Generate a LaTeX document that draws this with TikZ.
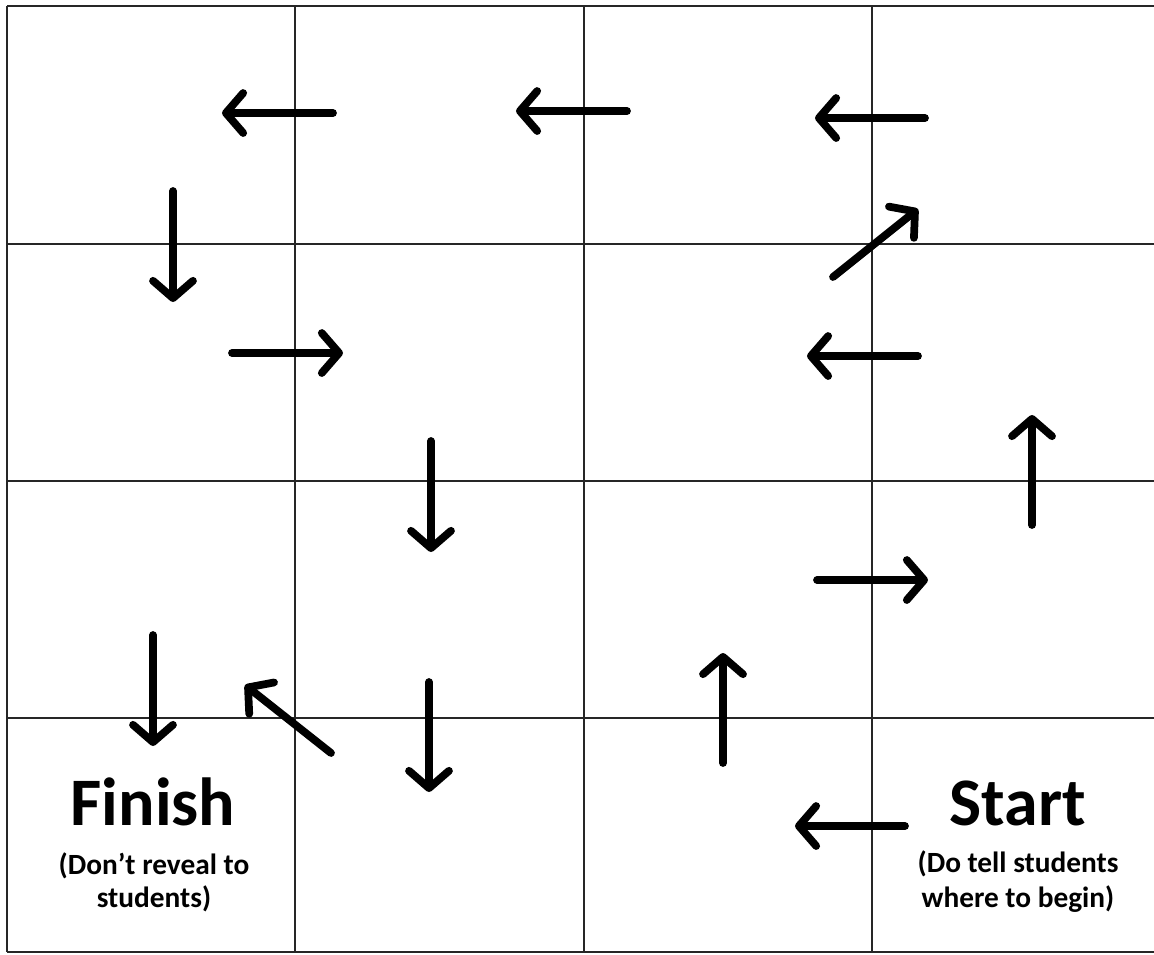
\documentclass[tikz,border=0pt]{standalone}
\usepackage{fontspec}
\setmainfont{Carlito}
\usetikzlibrary{arrows.meta}
\tikzset{
  gridline/.style={line width=1.6pt, draw=black!85},
  arr/.style={line width=5.8pt, line cap=round, line join=round,
    -{Straight Barb[length=13pt, width=30pt, round]}},
  bigtxt/.style={font=\fontsize{51pt}{60pt}\selectfont\bfseries, anchor=base, inner sep=0pt},
  smalltxt/.style={font=\fontsize{22pt}{26pt}\selectfont\bfseries, anchor=base, inner sep=0pt},
}
\begin{document}
\begin{tikzpicture}[x=0.75pt, y=-0.75pt]
\useasboundingbox (0,0) rectangle (1154,954);
% grid
\draw[gridline] (7,6) -- (1160,6);
\draw[gridline] (7,244) -- (1160,244);
\draw[gridline] (7,481) -- (1160,481);
\draw[gridline] (7,718) -- (1160,718);
\draw[gridline] (7,952) -- (1160,952);
\draw[gridline] (7,6) -- (7,952);
\draw[gridline] (295,6) -- (295,952);
\draw[gridline] (584,6) -- (584,952);
\draw[gridline] (872,6) -- (872,952);
% arrow end points
\coordinate (t1) at (333,113);  \coordinate (h1) at (222,113);
\coordinate (t2) at (627,111);  \coordinate (h2) at (516,111);
\coordinate (t3) at (925,118);  \coordinate (h3) at (815,118);
\coordinate (t4) at (173,191);  \coordinate (h4) at (173,302);
\coordinate (t5) at (833,277);  \coordinate (h5) at (918,209);
\coordinate (t6) at (232,353);  \coordinate (h6) at (343,353);
\coordinate (t7) at (918,356);  \coordinate (h7) at (807,356);
\coordinate (t8) at (1032,525); \coordinate (h8) at (1032,415);
\coordinate (t9) at (431,441);  \coordinate (h9) at (431,552);
\coordinate (t10) at (817,580); \coordinate (h10) at (928,580);
\coordinate (t11) at (153,635); \coordinate (h11) at (153,746);
\coordinate (t12) at (331,753); \coordinate (h12) at (245,685);
\coordinate (t13) at (429,682); \coordinate (h13) at (429,792);
\coordinate (t14) at (723,763); \coordinate (h14) at (723,653);
\coordinate (t15) at (905,826); \coordinate (h15) at (795,826);
\foreach \i in {1,...,15} {\draw[arr] (t\i) -- (h\i);}
% labels
\node[bigtxt] (finish) at (153,825) {Finish};
\node[smalltxt] (fin1) at (154,874) {(Don’t reveal to};
\node[smalltxt] (fin2) at (154,907) {students)};
\node[bigtxt] (start) at (1018,825) {Start};
\node[smalltxt] (st1) at (1018,872) {(Do tell students};
\node[smalltxt] (st2) at (1018,907) {where to begin)};
\end{tikzpicture}
\end{document}
